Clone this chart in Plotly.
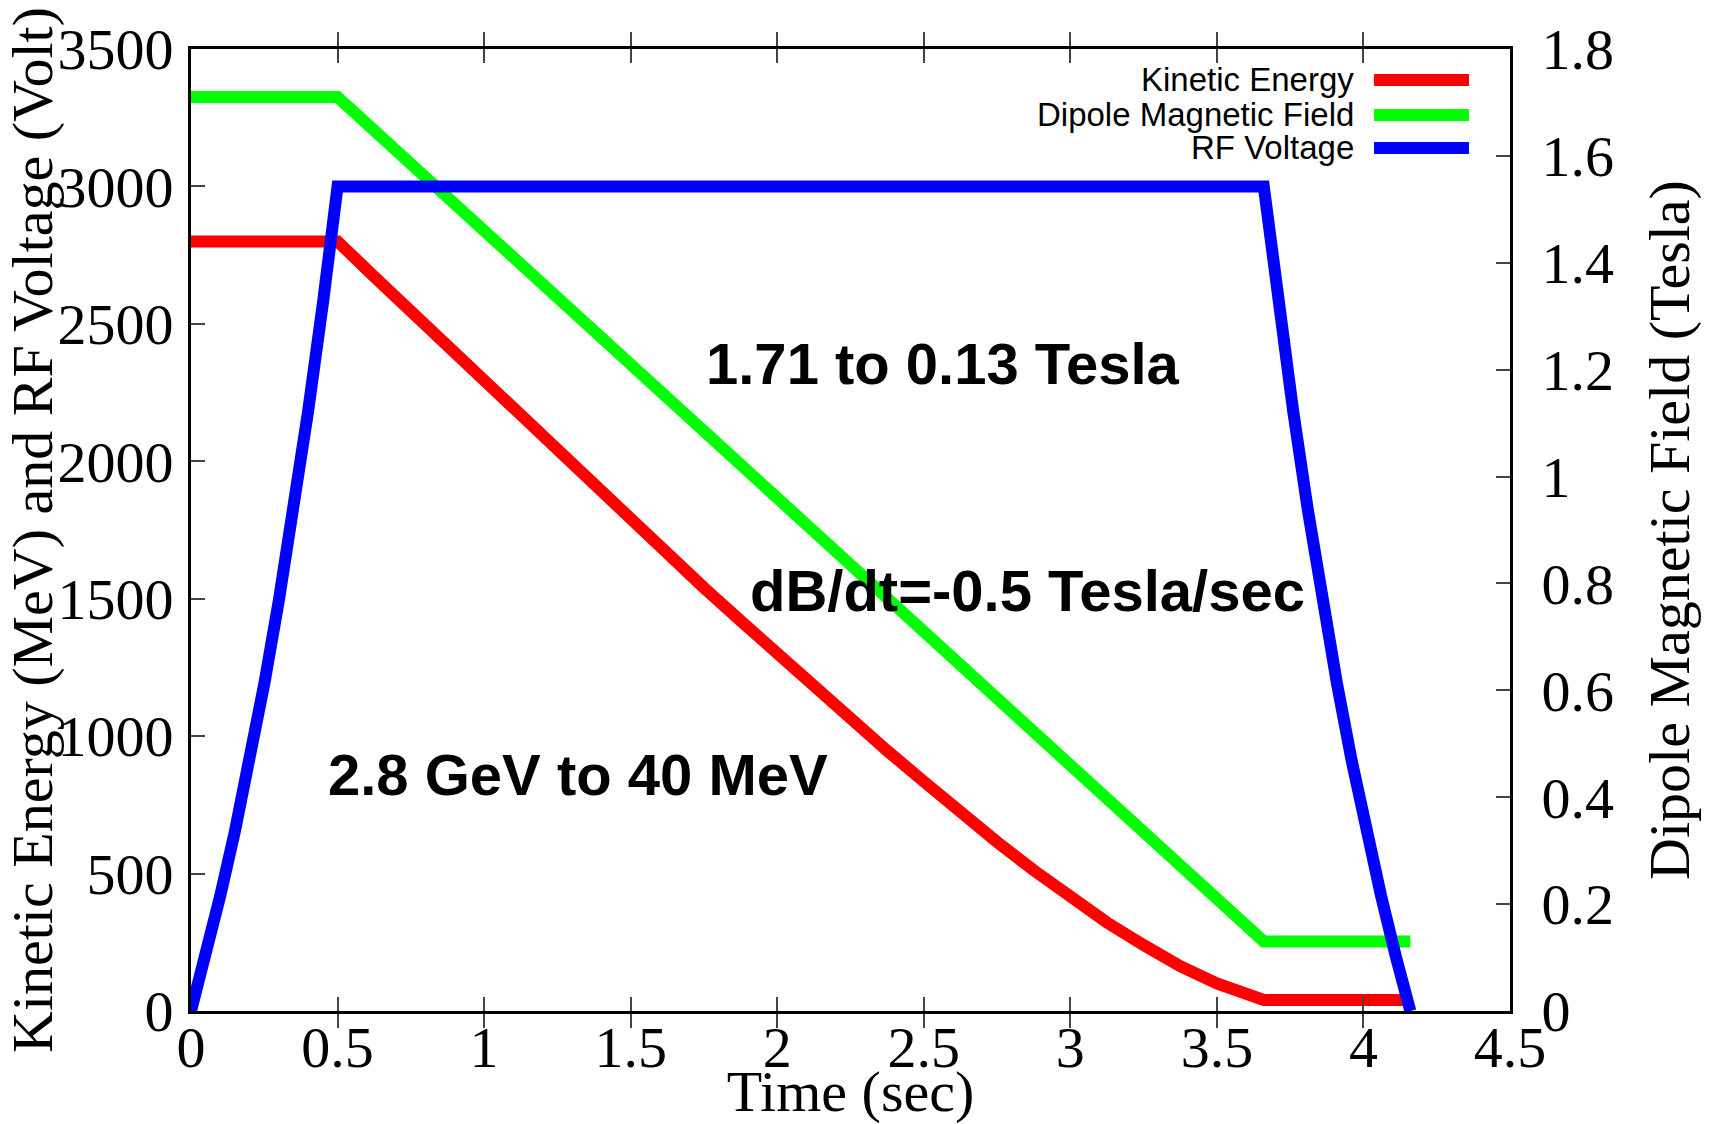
import plotly.graph_objects as go

# Kinetic energy of the beam along the deceleration ramp (time in s, energy in MeV)
ke_time = [0, 0.5, 0.625, 0.75, 0.875, 1.0, 1.125, 1.25, 1.375, 1.5, 1.625, 1.75, 1.875,
           2.0, 2.125, 2.25, 2.375, 2.5, 2.625, 2.75, 2.875, 3.0, 3.125, 3.25, 3.375,
           3.5, 3.58, 3.66, 4.16]
ke_mev = [2800, 2800, 2672, 2545, 2417, 2290, 2164, 2040, 1913, 1790, 1665, 1540, 1420,
          1300, 1180, 1060, 947, 835, 722, 615, 512, 415, 322, 240, 163,
          100, 67, 40, 40]

# Dipole field (Tesla), linear ramp at -0.5 T/s
dipole_time = [0, 0.5, 3.66, 4.16]
dipole_tesla = [1.71, 1.71, 0.13, 0.13]

# RF voltage (Volt): rise, flat top, fall
rf_time = [0, 0.05, 0.10, 0.15, 0.20, 0.25, 0.30, 0.35, 0.40, 0.45, 0.50,
           3.66, 3.71, 3.76, 3.81, 3.86, 3.91, 3.96, 4.01, 4.06, 4.11, 4.16]
rf_volt = [0, 200, 420, 655, 910, 1190, 1495, 1825, 2185, 2575, 3000,
           3000, 2575, 2185, 1825, 1495, 1190, 910, 655, 420, 200, 0]

series_names = ["Kinetic Energy", "Dipole Magnetic Field", "RF Voltage"]
series_colors = ["#ff0000", "#00ff00", "#0000ff"]

x_ticks = [0, 0.5, 1, 1.5, 2, 2.5, 3, 3.5, 4, 4.5]
x_tick_text = ["0", "0.5", "1", "1.5", "2", "2.5", "3", "3.5", "4", "4.5"]
left_ticks = [0, 500, 1000, 1500, 2000, 2500, 3000, 3500]
left_tick_text = ["0", "500", "1000", "1500", "2000", "2500", "3000", "3500"]
right_ticks = [0, 0.2, 0.4, 0.6, 0.8, 1.0, 1.2, 1.4, 1.6, 1.8]
right_tick_text = ["0", "0.2", "0.4", "0.6", "0.8", "1", "1.2", "1.4", "1.6", "1.8"]

label_texts = ["1.71 to 0.13 Tesla", "dB/dt=-0.5 Tesla/sec", "2.8 GeV to 40 MeV"]
label_x = [1.75, 1.90, 0.46]
label_y = [2354, 1531, 862]

SERIF = "Liberation Serif, Times New Roman, serif"
SANS = "Liberation Sans, Arial, sans-serif"
SERIF_SIZE = 58
LINE_W = 12

fig = go.Figure()

# Field on the primary (right-hand) axis so that the left-axis curves draw above it
fig.add_trace(go.Scatter(x=dipole_time, y=dipole_tesla, mode="lines", name=series_names[1],
                         line=dict(color=series_colors[1], width=LINE_W), yaxis="y",
                         showlegend=False))
fig.add_trace(go.Scatter(x=ke_time, y=ke_mev, mode="lines", name=series_names[0],
                         line=dict(color=series_colors[0], width=LINE_W), yaxis="y2",
                         showlegend=False))
fig.add_trace(go.Scatter(x=rf_time, y=rf_volt, mode="lines", name=series_names[2],
                         line=dict(color=series_colors[2], width=LINE_W), yaxis="y2",
                         showlegend=False))

axis_common = dict(
    ticks="inside", ticklen=14, tickwidth=2, tickcolor="#444",
    showline=True, linewidth=3, linecolor="black",
    showgrid=False, zeroline=False, automargin=False,
    tickfont=dict(family=SERIF, size=SERIF_SIZE, color="black"),
)
title_font = dict(family=SERIF, size=SERIF_SIZE, color="black")

fig.update_layout(
    width=1714, height=1124,
    margin=dict(l=191, r=204, t=49, b=113),
    paper_bgcolor="white", plot_bgcolor="white",
    xaxis=dict(range=[0, 4.5], tickmode="array", tickvals=x_ticks, ticktext=x_tick_text,
               mirror="allticks", ticklabelstandoff=-17,
               title=dict(text="Time (sec)", font=title_font, standoff=14),
               **axis_common),
    yaxis=dict(range=[0, 1.8], side="right", tickmode="array", tickvals=right_ticks,
               ticktext=right_tick_text, ticklabelstandoff=17,
               title=dict(text="Dipole Magnetic Field (Tesla)", font=title_font, standoff=36),
               **axis_common),
    yaxis2=dict(range=[0, 3500], side="left", overlaying="y", tickmode="array",
                tickvals=left_ticks, ticktext=left_tick_text, ticklabelstandoff=3,
                title=dict(text="Kinetic Energy (MeV) and RF Voltage (Volt)",
                           font=title_font, standoff=0),
                **axis_common),
)

# Bold text labels inside the plot
for txt, lx, ly in zip(label_texts, label_x, label_y):
    fig.add_annotation(x=lx, y=ly, xref="x", yref="y2", text=f"<b>{txt}</b>",
                       showarrow=False, xanchor="left", yanchor="middle",
                       font=dict(family=SANS, size=58, color="black"))

# Key in the upper right corner: text to the left of each line sample
key_rows = [0.9678, 0.9314, 0.8971]
key_text_right = 0.883
key_line = (0.8969, 0.9689)
for name, color, ry in zip(series_names, series_colors, key_rows):
    fig.add_annotation(x=key_text_right, y=ry, xref="paper", yref="paper", text=name,
                       showarrow=False, xanchor="right", yanchor="middle",
                       font=dict(family=SANS, size=33, color="black"))
    fig.add_shape(type="line", xref="paper", yref="paper", x0=key_line[0], x1=key_line[1],
                  y0=ry, y1=ry, line=dict(color=color, width=LINE_W))

fig.write_html("out.html")
